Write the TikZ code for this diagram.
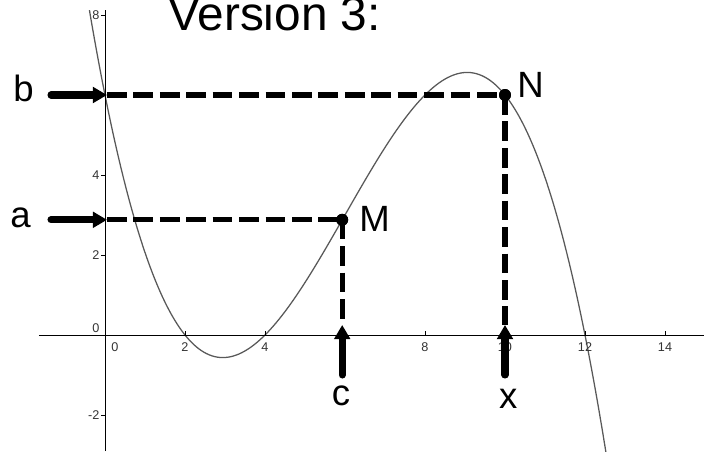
\documentclass[tikz,border=0pt]{standalone}
\usepackage{fontspec}
\setmainfont{Liberation Sans}
\usetikzlibrary{arrows.meta,calc}

\begin{document}
\begin{tikzpicture}[
  axisln/.style={line width=0.7pt, black},
  graphln/.style={line width=0.9pt, black!65},
  guide/.style={line width=3.6pt, dash pattern=on 14pt off 4.8pt},
  pointer/.style={-{Triangle[length=10pt, width=11pt]}, line width=5pt,
                  line cap=round},
  dot/.style={circle, fill=black, inner sep=0pt, minimum size=8.5pt},
  ticklbl/.style={font=\fontsize{9}{10}\selectfont, text=black!80, inner sep=1pt},
  lbl/.style={font=\fontsize{26}{30}\selectfont, inner sep=0pt},
]
\useasboundingbox (-2.625,-2.9) rectangle (14.975,8.375);

% ================= graph of the cubic =================
\begin{scope}
  \clip (-2.625,-2.9) rectangle (14.975,8.125);
  \draw[graphln] plot[domain=-0.6:12.7, samples=200, smooth]
    (\x, {-(\x-2)*(\x-4)*(\x-12)/16});
\end{scope}

% axes and ticks
\draw[axisln] (-1.65,0) -- (14.975,0);
\draw[axisln] (0,-2.9) -- (0,8.125);
\foreach \k in {2,4,...,14}
  \draw[axisln] (\k,0) -- (\k,0.1);
\foreach \k in {-2,2,4,6,8}
  \draw[axisln] (0,\k) -- (-0.1,\k);
\foreach \k in {2,4,8,10,12,14}
  \node[ticklbl] (tx\k) at (\k,-0.3) {\k};
\node[ticklbl] (tx0) at (0.25,-0.3) {0};
\foreach \k in {-2,2,4,8}
  \node[ticklbl, anchor=east] (ty\k) at (-0.1,\k) {\k};
\node[ticklbl, anchor=east] (ty0) at (-0.1,0.17) {0};

% ================= points and guides =================
\node[dot] (M) at (5.93,2.88) {};
\node[dot] (N) at (10,6) {};

\coordinate (aY) at (0.05,2.88);
\coordinate (aS) at (-1.35,2.88);
\coordinate (bY) at (0.05,6);
\coordinate (bS) at (-1.35,6);
\coordinate (cX) at (5.93,0.25);
\coordinate (cS) at (5.93,-1.0);
\coordinate (xX) at (10,0.25);
\coordinate (xS) at (10,-1.0);

\draw[guide] (aY) -- (M.center);
\draw[guide] (bY) -- (N.center);
\draw[guide] (M.center) -- (cX);
\draw[guide] (N.center) -- (xX);

\draw[pointer] (aS) -- (aY);
\draw[pointer] (bS) -- (bY);
\draw[pointer] (cS) -- (cX);
\draw[pointer] (xS) -- (xX);

\node[dot] at (M) {};
\node[dot] at (N) {};

% labels
\node[lbl, anchor=base west] (bl) at (-2.3,5.83) {b};
\node[lbl, anchor=base west] (al) at (-2.375,2.7) {a};
\node[lbl, anchor=base west] (Ml) at (6.35,2.6) {M};
\node[lbl, anchor=base west] (Nl) at (10.3,5.93) {N};
\node[lbl, anchor=base] (cl) at (5.9,-1.75) {c};
\node[lbl, anchor=base] (xl) at (10.08,-1.83) {x};

\node[anchor=base west, inner sep=0pt, font=\fontsize{34}{40}\selectfont]
  (title) at (1.575,7.625) {Version 3:};
\end{tikzpicture}
\end{document}
